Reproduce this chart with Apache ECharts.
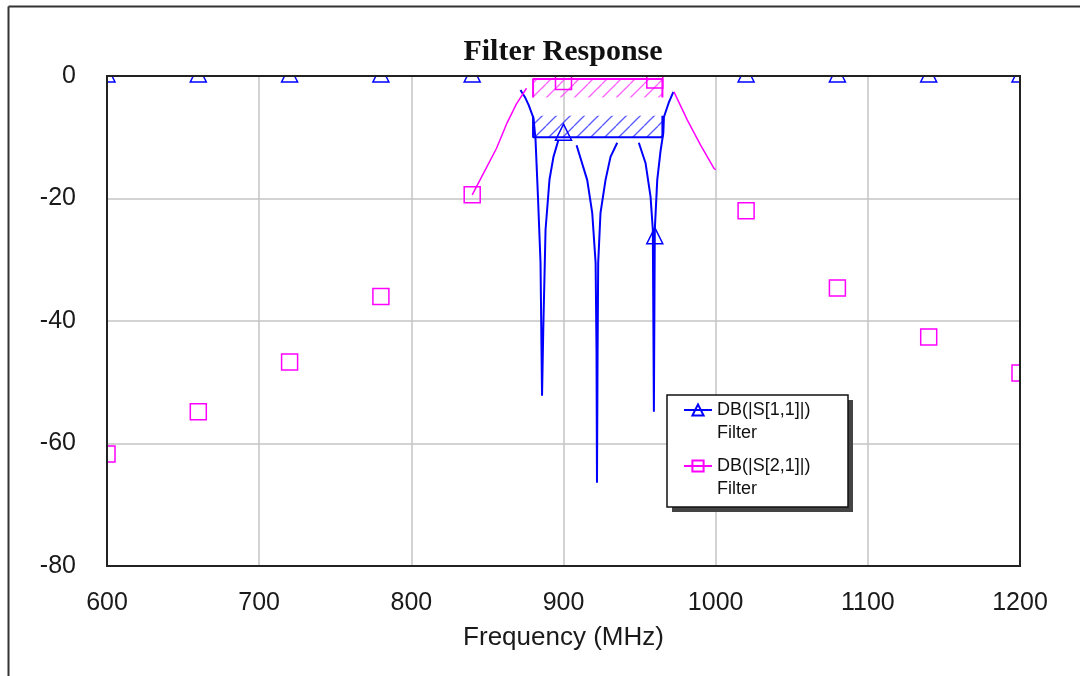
<!DOCTYPE html>
<html>
<head>
<meta charset="utf-8">
<script src="https://cdn.jsdelivr.net/npm/echarts@6/dist/echarts.min.js"></script>
<style>
  html, body { margin: 0; padding: 0; background: #fff; }
  #chart { width: 1080px; height: 676px; }
</style>
</head>
<body>
<div id="chart"></div>
<script>
// marker points, every 60 MHz
var markFreq = [600, 660, 720, 780, 840, 900, 960, 1020, 1080, 1140, 1200];
var s11Marks = [0, 0, 0, 0, 0, -9.5, -26.4, 0, 0, 0, 0];
var s21Marks = [-61.7, -54.8, -46.7, -36.0, -19.4, -0.9, -0.65, -22.0, -34.6, -42.6, -48.5];

// fine sweep, null = gap in the trace
var s11Freq = [871.7, 875.0, 877.2, 880.3, 881.6, 883.2, 884.9, 885.9, 886.7, 888.2, 890.8, 893.4, 896.7,
  902,
  908.6, 915.6, 918.9, 921.1, 921.7, 922.0, 922.4, 922.8, 924.3, 927.6, 930.9, 935.3,
  942,
  949.5, 953.9, 957.2, 958.7, 959.4, 960.0, 961.6, 963.8, 965.6, 966.0, 969.1, 972.2];
var s11Db = [-2.3, -3.6, -4.8, -6.9, -10.3, -19.6, -30.5, -52.2, -41.5, -25.1, -16.9, -13.2, -10.4,
  null,
  -11.3, -17.0, -22.4, -30.5, -45.0, -66.4, -45.0, -30.5, -22.4, -17.0, -13.2, -10.9,
  null,
  -10.9, -14.2, -19.7, -25.1, -54.8, -25.1, -17.0, -12.2, -9.3, -6.7, -4.4, -2.6];

var s21Freq = [840, 848, 856, 863, 869, 875.7, 920, 972.6, 981.4, 990.1, 998.9, 1000];
var s21Db = [-19.4, -15.6, -11.8, -7.6, -4.6, -2.0, null, -2.6, -7.2, -11.3, -15.1, -15.3];

// optimization goals
var goalFreq = [880, 965];
var s11Goal = -10, s11GoalEdge = -6.5;
var s21Goal = -0.5, s21GoalEdge = -3.5;

var S11 = 'DB(|S[1,1]|)';
var S21 = 'DB(|S[2,1]|)';
var BLUE = '#0000ff';
var MAG = '#ff00ff';
var FONT = 'Liberation Sans, Arial, sans-serif';

function pairs(xs, ys) {
	return xs.map(function (x, i) { return [x, ys[i] === null ? '-' : ys[i]]; });
}

function hatch(color) {
	var c = document.createElement('canvas');
	c.width = 14; c.height = 14;
	var ctx = c.getContext('2d');
	ctx.strokeStyle = color;
	ctx.lineWidth = 1.3;
	[-14, 0, 14].forEach(function (o) {
		ctx.beginPath();
		ctx.moveTo(o, 14);
		ctx.lineTo(o + 14, 0);
		ctx.stroke();
	});
	return { image: c, repeat: 'repeat' };
}

var chart = echarts.init(document.getElementById('chart'));

chart.setOption({
	animation: false,
	backgroundColor: '#fff',
	title: {
		text: 'Filter Response',
		left: 558,
		top: 32,
		z: 70,
		textAlign: 'center',
		textStyle: { fontFamily: 'Liberation Serif, Times New Roman, serif', fontWeight: 'bold', fontSize: 30, color: '#111' }
	},
	grid: { left: 107, top: 76, width: 913, height: 490, show: false },
	xAxis: {
		type: 'value', min: 600, max: 1200, interval: 100,
		axisLine: { show: false }, axisTick: { show: false },
		splitLine: { show: true, lineStyle: { color: '#c4c4c4', width: 1.5 } },
		axisLabel: { fontFamily: FONT, fontSize: 25, color: '#1a1a1a', margin: 25,
			formatter: function (v) { return String(v); } },
		name: 'Frequency (MHz)', nameLocation: 'middle', nameGap: 59,
		nameTextStyle: { fontFamily: FONT, fontSize: 26, color: '#1a1a1a' }
	},
	yAxis: {
		type: 'value', min: -80, max: 0, interval: 20,
		axisLine: { show: false }, axisTick: { show: false },
		splitLine: { show: true, lineStyle: { color: '#c4c4c4', width: 1.5 } },
		axisLabel: { fontFamily: FONT, fontSize: 25, color: '#1a1a1a', margin: 31 }
	},
	legend: {
		data: [S11, S21],
		orient: 'vertical',
		left: 683, top: 375.5,
		padding: 0, itemGap: -13,
		itemWidth: 28, itemHeight: 14,
		z: 20,
		selectedMode: false,
		// empty first line so the name sits level with the icon
		formatter: function (name) { return '\n' + name + '\nFilter'; },
		textStyle: { fontFamily: FONT, fontSize: 18, color: '#111', lineHeight: 23 }
	},
	graphic: [
		// outer page frame
		{ type: 'line', z: 60, shape: { x1: 8.5, y1: 6.5, x2: 8.5, y2: 676 }, style: { stroke: '#333', lineWidth: 2 } },
		{ type: 'line', z: 60, shape: { x1: 8.5, y1: 6.5, x2: 1080, y2: 6.5 }, style: { stroke: '#333', lineWidth: 2 } },
		// masks so markers on the plot edge are cut off
		{ type: 'rect', z: 50, shape: { x: 90, y: 64, width: 950, height: 12 }, style: { fill: '#fff' } },
		{ type: 'rect', z: 50, shape: { x: 90, y: 64, width: 17, height: 507 }, style: { fill: '#fff' } },
		{ type: 'rect', z: 50, shape: { x: 1020, y: 64, width: 20, height: 507 }, style: { fill: '#fff' } },
		// plot frame
		{ type: 'rect', z: 51, shape: { x: 107, y: 76, width: 913, height: 490 }, style: { fill: 'none', stroke: '#222', lineWidth: 2 } },
		// legend box with shadow
		{ type: 'rect', z: 15, shape: { x: 672, y: 400, width: 181, height: 112 }, style: { fill: '#444' } },
		{ type: 'rect', z: 16, shape: { x: 667, y: 395, width: 181, height: 112 }, style: { fill: '#fff', stroke: '#111', lineWidth: 1.5 } }
	],
	series: [
		{
			name: S11, type: 'line', silent: true,
			symbol: 'triangle', showSymbol: false,
			lineStyle: { color: BLUE, width: 2 },
			itemStyle: { color: 'rgba(255,255,255,0)', borderColor: BLUE, borderWidth: 1.5 },
			data: pairs(s11Freq, s11Db), z: 3
		},
		{
			name: S21, type: 'line', silent: true,
			symbol: 'rect', showSymbol: false,
			lineStyle: { color: MAG, width: 1.5 },
			itemStyle: { color: 'rgba(255,255,255,0)', borderColor: MAG, borderWidth: 1.5 },
			data: pairs(s21Freq, s21Db), z: 3
		},
		{
			name: S11, type: 'scatter', silent: true, clip: false,
			symbol: 'triangle', symbolSize: 16, symbolOffset: [0, -2],
			itemStyle: { color: 'rgba(255,255,255,0)', borderColor: BLUE, borderWidth: 1.5, opacity: 1 },
			data: pairs(markFreq, s11Marks), z: 4
		},
		{
			name: S21, type: 'scatter', silent: true, clip: false,
			symbol: 'rect', symbolSize: 16,
			itemStyle: { color: 'rgba(255,255,255,0)', borderColor: MAG, borderWidth: 1.5, opacity: 1 },
			data: pairs(markFreq, s21Marks), z: 4
		},
		{
			name: 'goal S11', type: 'line', silent: true, symbol: 'none',
			lineStyle: { color: BLUE, width: 2 },
			data: [[goalFreq[0], s11GoalEdge], [goalFreq[0], s11Goal], [goalFreq[1], s11Goal], [goalFreq[1], s11GoalEdge]],
			markArea: {
				silent: true,
				itemStyle: { color: hatch('rgba(60,60,255,0.85)') },
				data: [[{ coord: [goalFreq[0], s11Goal] }, { coord: [goalFreq[1], s11GoalEdge] }]]
			},
			z: 2
		},
		{
			name: 'goal S21', type: 'line', silent: true, symbol: 'none',
			lineStyle: { color: MAG, width: 2 },
			data: [[goalFreq[0], s21GoalEdge], [goalFreq[0], s21Goal], [goalFreq[1], s21Goal], [goalFreq[1], s21GoalEdge]],
			markArea: {
				silent: true,
				itemStyle: { color: hatch('rgba(255,70,255,0.85)') },
				data: [[{ coord: [goalFreq[0], s21Goal] }, { coord: [goalFreq[1], s21GoalEdge] }]]
			},
			z: 2
		}
	]
});
</script>
</body>
</html>
